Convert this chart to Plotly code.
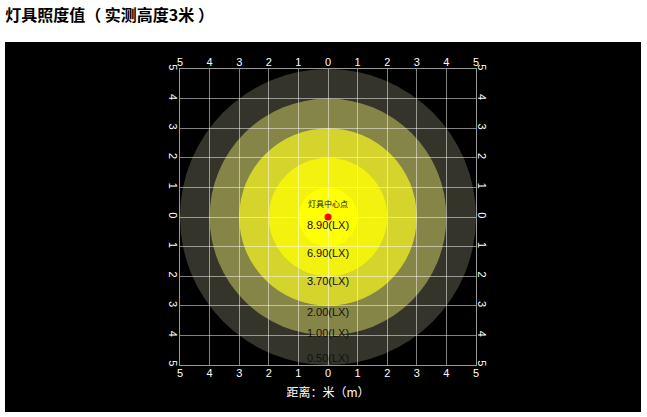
import plotly.graph_objects as go

# 照度圈：半径(米)与颜色，由外到内
radii = [5, 4, 3, 2, 1]
ring_colors = ["#34342b", "#858547", "#d4d42c", "#f2f20e", "#ffff00"]

# 照度标注
lux_labels = ["8.90(LX)", "6.90(LX)", "3.70(LX)", "2.00(LX)", "1.00(LX)", "0.50(LX)"]
lux_y = [-0.3, -1.25, -2.2, -3.25, -3.95, -4.8]

ticks = [-5, -4, -3, -2, -1, 0, 1, 2, 3, 4, 5]
tick_text = ["5", "4", "3", "2", "1", "0", "1", "2", "3", "4", "5"]

W, H = 647, 417
L, R, T, B = 180, 171, 69, 52
pw = W - L - R
ph = H - T - B

fig = go.Figure()

fig.add_trace(go.Scatter(
    x=[0] * len(lux_labels), y=lux_y, mode="text", text=lux_labels,
    textfont=dict(family="Liberation Sans, Arial", size=11, color="#111111"),
    hoverinfo="skip", showlegend=False))
fig.add_trace(go.Scatter(
    x=[0], y=[0.4], mode="text", text=["灯具中心点"],
    textfont=dict(family="Noto Sans CJK SC", size=8, color="#111111"),
    hoverinfo="skip", showlegend=False))
fig.add_trace(go.Scatter(
    x=[0], y=[0], mode="markers", marker=dict(color="red", size=7),
    hoverinfo="skip", showlegend=False))
# 顶部和右侧坐标轴
fig.add_trace(go.Scatter(x=[0], y=[0], xaxis="x2", yaxis="y2", mode="markers",
                         marker=dict(opacity=0), hoverinfo="skip", showlegend=False))

# 黑色背景框
fig.add_shape(type="rect", xref="paper", yref="paper",
              x0=(5 - L) / pw, x1=(641 - L) / pw,
              y0=(H - B - 412) / ph, y1=(H - B - 42) / ph,
              fillcolor="black", line=dict(width=0), layer="below")

for r, c in zip(radii, ring_colors):
    fig.add_shape(type="circle", xref="x", yref="y", x0=-r, x1=r, y0=-r, y1=r,
                  fillcolor=c, line=dict(width=0), layer="below")

axis_common = dict(
    range=[-5, 5], tickmode="array", tickvals=ticks, ticktext=tick_text,
    showgrid=True, gridcolor="rgba(255,255,255,0.5)", gridwidth=1,
    zeroline=False, showline=True, linecolor="rgba(255,255,255,0.6)", linewidth=1,
    ticks="", tickfont=dict(family="Liberation Sans, Arial", size=11, color="white"),
    fixedrange=True,
)

fig.update_layout(
    width=W, height=H,
    margin=dict(l=L, r=R, t=T, b=B),
    paper_bgcolor="white", plot_bgcolor="black",
    title=dict(text="<b>灯具照度值（ 实测高度3米 ）</b>", x=0.008, xanchor="left",
               y=1 - 15 / H, yanchor="middle",
               font=dict(family="Noto Sans CJK SC", size=16, color="black")),
    xaxis=dict(**axis_common, ticklabelstandoff=-2,
               title=dict(text="距离：米（m）", standoff=10,
                          font=dict(family="Noto Sans CJK SC", size=12, color="white"))),
    yaxis=dict(**axis_common, tickangle=90, ticklabelstandoff=-3),
    xaxis2=dict(**axis_common, overlaying="x", side="top", ticklabelstandoff=-2),
    yaxis2=dict(**axis_common, overlaying="y", side="right", tickangle=90,
                ticklabelstandoff=-3),
)
fig.update_xaxes(showgrid=False, selector=dict(overlaying="x"))
fig.update_yaxes(showgrid=False, selector=dict(overlaying="y"))

fig.write_html("out.html", config={"displayModeBar": False},
               post_script="document.body.style.margin='0';")
